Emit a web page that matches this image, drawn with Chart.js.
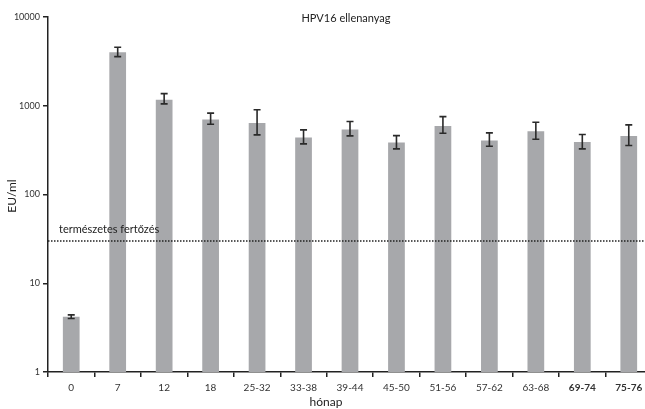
<!DOCTYPE html>
<html>
<head>
<meta charset="utf-8">
<script src="https://cdn.jsdelivr.net/npm/chart.js@4"></script>
<style>
  body { margin: 0; background: #fff; overflow: hidden; }
  #wrap { width: 652px; height: 409px; }
</style>
</head>
<body>
<div id="wrap"><canvas id="chartHpv"></canvas></div>
<script>
var months = ["0", "7", "12", "18", "25-32", "33-38", "39-44", "45-50", "51-56", "57-62", "63-68", "69-74", "75-76"];
var gmt = [4.2, 4000, 1170, 700, 640, 440, 540, 385, 590, 405, 515, 390, 455];
var errLow = [4.0, 3580, 1050, 620, 470, 372, 458, 327, 490, 350, 420, 327, 356];
var errHigh = [4.4, 4570, 1370, 825, 900, 535, 664, 461, 755, 495, 653, 474, 609];
var yTicks = [1, 10, 100, 1000, 10000];
var naturalLevel = 30;
var naturalLabel = "természetes fertőzés";
var titleText = "HPV16 ellenanyag";
var xTitle = "hónap";
var yTitle = "EU/ml";

var fontFam = "Lato, 'DejaVu Sans', sans-serif";

// error bars, natural infection line, titles
var extras = {
    id: "extras",
    afterDatasetsDraw: function (chart) {
        var ctx = chart.ctx;
        var x = chart.scales.x;
        var y = chart.scales.y;
        var area = chart.chartArea;
        ctx.save();

        // dotted line
        var ly = y.getPixelForValue(naturalLevel);
        ctx.strokeStyle = "#222";
        ctx.lineWidth = 1.5;
        ctx.setLineDash([1.5, 1.5]);
        ctx.beginPath();
        ctx.moveTo(area.left, ly);
        ctx.lineTo(area.right, ly);
        ctx.stroke();
        ctx.setLineDash([]);

        ctx.fillStyle = "#222";
        ctx.font = "11px " + fontFam;
        ctx.textAlign = "left";
        ctx.textBaseline = "alphabetic";
        ctx.fillText(naturalLabel, area.left + 11, ly - 8);

        // error bars
        ctx.strokeStyle = "#2a2a2a";
        ctx.lineWidth = 1.6;
        for (var i = 0; i < months.length; i++) {
            var cx = x.getPixelForValue(i);
            var top = y.getPixelForValue(errHigh[i]);
            var bot = y.getPixelForValue(errLow[i]);
            ctx.beginPath();
            ctx.moveTo(cx, top);
            ctx.lineTo(cx, bot);
            ctx.moveTo(cx - 3.5, top);
            ctx.lineTo(cx + 3.5, top);
            ctx.moveTo(cx - 3.5, bot);
            ctx.lineTo(cx + 3.5, bot);
            ctx.stroke();
        }

        // titles
        ctx.font = "11px " + fontFam;
        ctx.textAlign = "center";
        ctx.textBaseline = "middle";
        ctx.fillStyle = "#222";
        ctx.fillText(titleText, 346, 18);
        ctx.font = "12px " + fontFam;
        ctx.fillText(xTitle, 326, 402);
        ctx.translate(12, 196);
        ctx.rotate(-Math.PI / 2);
        ctx.fillText(yTitle, 0, 0);
        ctx.restore();
    }
};

const myChart = new Chart("chartHpv", {
    type: "bar",
    data: {
        labels: months,
        datasets: [{
            data: gmt,
            backgroundColor: "#a7a8ab",
            borderWidth: 0,
            barPercentage: 0.36,
            categoryPercentage: 1.0
        }]
    },
    options: {
        responsive: true,
        maintainAspectRatio: false,
        animation: false,
        layout: { padding: { top: 17, right: 0, left: 0, bottom: 0 } },
        plugins: {
            legend: { display: false },
            tooltip: { enabled: false }
        },
        scales: {
            x: {
                offset: true,
                grid: {
                    display: true,
                    offset: true,
                    drawOnChartArea: false,
                    drawTicks: true,
                    tickLength: 5,
                    color: "#222",
                    lineWidth: 1.5
                },
                border: { display: true, color: "#222", width: 1.5 },
                ticks: {
                    color: "#333",
                    font: function (c) {
                        return { family: fontFam, size: 10, weight: c.index >= 11 ? "bold" : "normal" };
                    },
                    maxRotation: 0,
                    autoSkip: false,
                    padding: 5
                },
                afterFit: function (scale) { scale.height = 37; }
            },
            y: {
                type: "logarithmic",
                min: 1,
                max: 10000,
                grid: {
                    display: true,
                    drawOnChartArea: false,
                    drawTicks: true,
                    tickLength: 5,
                    color: "#222",
                    lineWidth: 1.5
                },
                border: { display: true, color: "#222", width: 1.5 },
                afterBuildTicks: function (scale) {
                    scale.ticks = yTicks.map(function (v) { return { value: v }; });
                },
                ticks: {
                    color: "#333",
                    font: { family: fontFam, size: 9 },
                    padding: 3,
                    callback: function (v) { return String(v); }
                },
                afterFit: function (scale) { scale.width = 48; }
            }
        }
    },
    plugins: [extras]
});
</script>
</body>
</html>
